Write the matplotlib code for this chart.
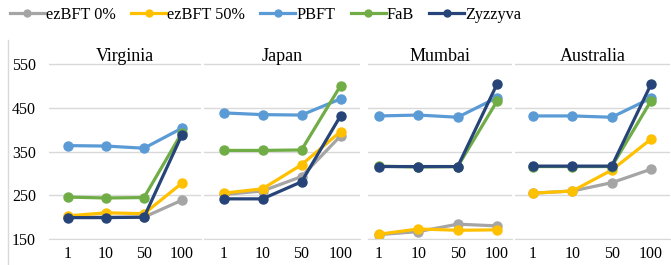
import matplotlib.pyplot as plt
from matplotlib.lines import Line2D

plt.rcParams["font.family"] = "serif"
plt.rcParams["font.serif"] = ["Liberation Serif", "DejaVu Serif"]

clients = ["1", "10", "50", "100"]
regions = ["Virginia", "Japan", "Mumbai", "Australia"]
protocols = ["ezBFT 0%", "ezBFT 50%", "PBFT", "FaB", "Zyzzyva"]
colors = ["#A5A5A5", "#FFC000", "#5B9BD5", "#70AD47", "#264478"]

# latency per region, one list per protocol (same order as protocols)
virginia = [
    [201, 200, 200, 239],
    [203, 210, 208, 278],
    [364, 363, 358, 404],
    [246, 244, 245, 394],
    [199, 199, 200, 389],
]
japan = [
    [252, 260, 293, 386],
    [255, 265, 320, 396],
    [439, 435, 434, 471],
    [353, 353, 354, 501],
    [242, 242, 281, 432],
]
mumbai = [
    [160, 167, 184, 180],
    [161, 173, 170, 171],
    [432, 434, 429, 474],
    [317, 315, 316, 466],
    [316, 316, 316, 505],
]
australia = [
    [255, 260, 279, 310],
    [255, 260, 308, 379],
    [432, 432, 429, 473],
    [316, 316, 316, 467],
    [317, 317, 317, 505],
]
data = [virginia, japan, mumbai, australia]

W, H = 671, 265
fig = plt.figure(figsize=(W / 100, H / 100), dpi=100)

# panel extents in pixels (left, right) and x limits
panels = [(49, 201), (204, 360), (368, 512), (515, 670)]
xlims = [(-0.5, 3.5), (-0.5, 3.5), (-0.28, 3.38), (-0.46, 3.48)]
top_px, bot_px = 40, 239

for i, (region, series) in enumerate(zip(regions, data)):
    l, r = panels[i]
    ax = fig.add_axes([l / W, 1 - bot_px / H, (r - l) / W, (bot_px - top_px) / H])
    xs = range(len(clients))
    for name, ys, c in zip(protocols, series, colors):
        ax.plot(xs, ys, color=c, lw=2.3, marker="o", ms=6.5, label=name,
                solid_capstyle="round")
    ax.set_xlim(*xlims[i])
    ax.set_ylim(150, 606)
    ax.set_yticks([150, 250, 350, 450, 550])
    ax.set_xticks(list(xs))
    ax.set_xticklabels(clients, fontsize=11.5)
    ax.grid(axis="y", color="#D9D9D9", lw=1)
    ax.set_axisbelow(True)
    for s in ["top", "right", "left"]:
        ax.spines[s].set_visible(False)
    ax.spines["bottom"].set_color("#D9D9D9")
    ax.tick_params(length=0, pad=5)
    if i == 0:
        ax.tick_params(axis="y", labelsize=11.5, pad=9.5)
    else:
        ax.set_yticklabels([])
    ax.text(0.5, 0.915, region, transform=ax.transAxes, ha="center",
            va="center", fontsize=13)

# thin frame line on the left
fig.add_artist(Line2D([8 / W, 8 / W], [0, 1 - top_px / H], color="#D9D9D9", lw=1))

handles = [Line2D([], [], color=c, lw=2.3, marker="o", ms=5) for c in colors]
fig.legend(handles, protocols, loc="center left", bbox_to_anchor=(10 / W, 1 - 15 / H),
           ncol=5, frameon=False, fontsize=11.7, handlelength=2.15,
           handletextpad=0.08, columnspacing=0.93, borderaxespad=0, borderpad=0)

fig.savefig("out.png", dpi=100)
